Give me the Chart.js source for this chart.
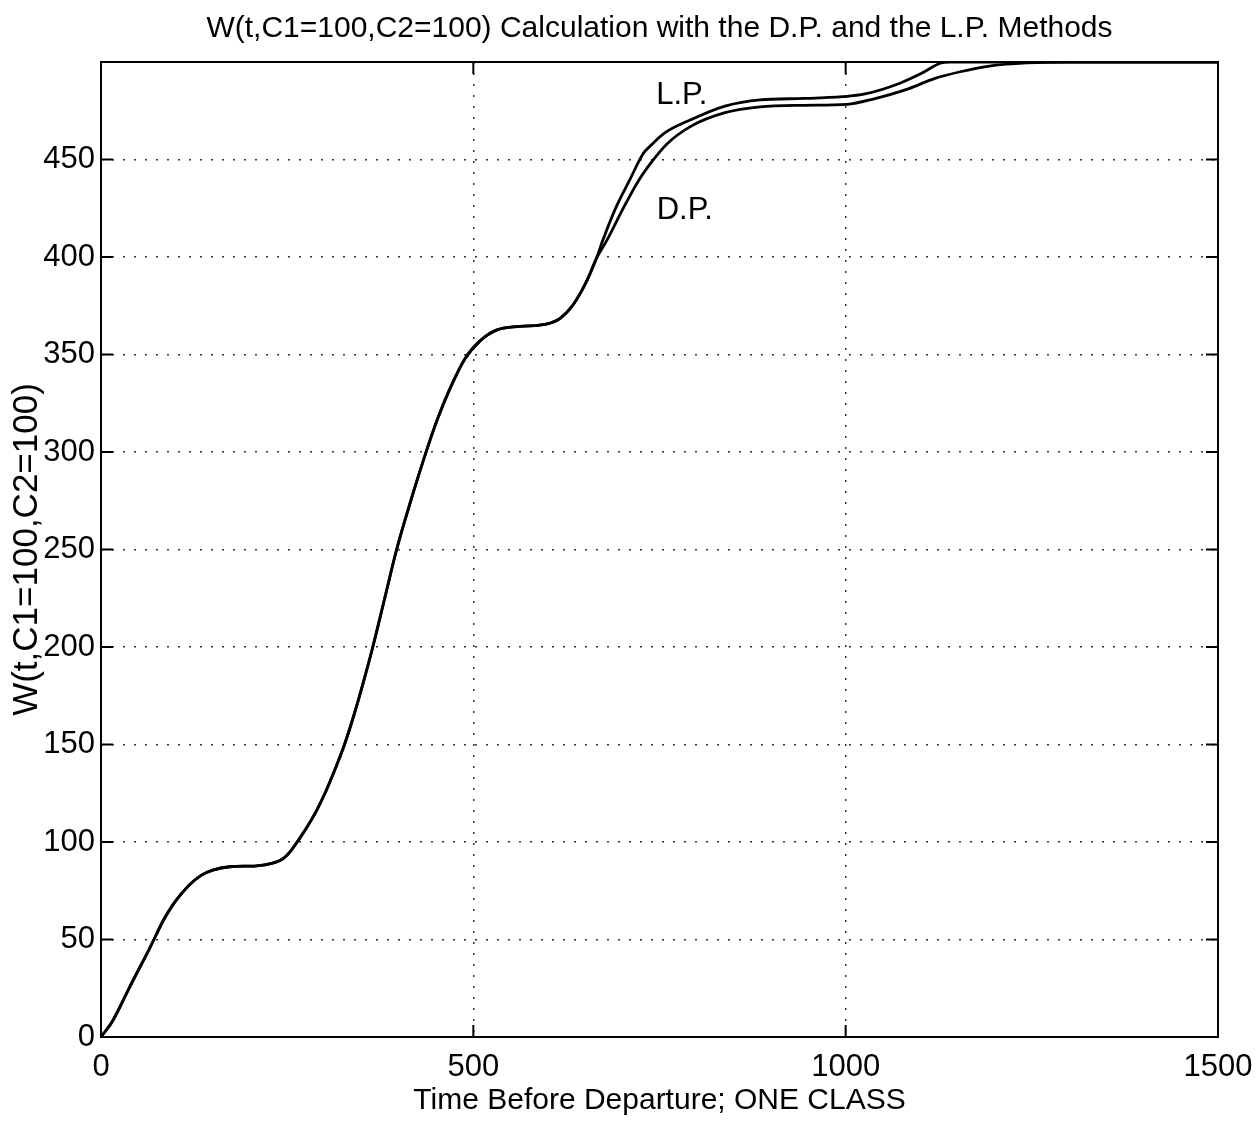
<!DOCTYPE html>
<html>
<head>
<meta charset="utf-8">
<title>W(t) D.P. vs L.P.</title>
<script src="https://cdn.jsdelivr.net/npm/chart.js@4.4.1/dist/chart.umd.min.js"></script>
<style>
  html, body { margin: 0; padding: 0; background: #fff; }
  canvas { display: block; }
</style>
</head>
<body>
<canvas id="wchart" width="1260" height="1122"></canvas>
<script>
// part of the curve where both methods agree
var sharedTime = [0, 16, 39, 66, 84, 96, 108, 120, 135, 150, 173, 209, 229, 245, 256, 267, 278, 290, 302, 314, 327, 340, 352, 365, 381, 397, 416, 434, 451, 468, 489, 509, 531, 562, 598, 617, 634, 652, 665];
var sharedW    = [0, 8.5, 26, 46, 60, 67.5, 73.5, 78.5, 83, 85.6, 87.3, 87.8, 89, 91.6, 96, 102, 108.5, 116.5, 126, 137, 150, 165.5, 181.5, 200, 225, 250, 275, 297, 316, 332, 348, 357, 362.5, 364.4, 365.6, 368.7, 375.5, 387.5, 399];

// L.P. method after the split
var lpTime = [674, 692, 710, 728, 739, 757, 792, 838, 885, 944, 996, 1026, 1072, 1102, 1128, 1140, 1500];
var lpW    = [408.7, 425.8, 439.5, 453, 457.4, 463.6, 470.4, 477.4, 480.6, 481.3, 482.2, 483.6, 489, 494.2, 499.5, 500, 500];

// D.P. method after the split
var dpTime = [680, 700, 720, 740, 760, 792, 838, 885, 944, 1002, 1037, 1084, 1119, 1154, 1195, 1243, 1300, 1500];
var dpW    = [409, 424, 438, 449, 458, 467, 474, 477, 477.8, 478.3, 481, 486.2, 491.5, 495, 498, 499.5, 500, 500];

var xTicks = [0, 500, 1000, 1500];
var yTicks = [0, 50, 100, 150, 200, 250, 300, 350, 400, 450, 500];

var curveNotes = [
  { text: 'L.P.', t: 780, w: 483 },
  { text: 'D.P.', t: 784, w: 424 }
];

var FONT = "'Liberation Sans', Arial, Helvetica, sans-serif";

function toPoints(ts, ws) {
  var out = [];
  for (var i = 0; i < ts.length; i++) out.push({ x: ts[i], y: ws[i] });
  return out;
}

// box round the plot plus matlab style inward ticks
var frameTicks = {
  id: 'frameTicks',
  afterDraw: function(chart) {
    var ctx = chart.ctx, a = chart.chartArea;
    var xs = chart.scales.x, ys = chart.scales.y;
    var len = 12;
    ctx.save();
    ctx.strokeStyle = '#000';
    ctx.lineWidth = 2;
    ctx.strokeRect(a.left, a.top, a.right - a.left, a.bottom - a.top);
    ctx.beginPath();
    xTicks.forEach(function(v) {
      var px = xs.getPixelForValue(v);
      ctx.moveTo(px, a.bottom); ctx.lineTo(px, a.bottom - len);
      ctx.moveTo(px, a.top); ctx.lineTo(px, a.top + len);
    });
    yTicks.forEach(function(v) {
      var py = ys.getPixelForValue(v);
      ctx.moveTo(a.left, py); ctx.lineTo(a.left + len, py);
      ctx.moveTo(a.right, py); ctx.lineTo(a.right - len, py);
    });
    ctx.stroke();

    ctx.fillStyle = '#000';
    ctx.font = '31px ' + FONT;
    ctx.textAlign = 'center';
    ctx.textBaseline = 'middle';
    curveNotes.forEach(function(n) {
      ctx.fillText(n.text, xs.getPixelForValue(n.t), ys.getPixelForValue(n.w));
    });
    ctx.restore();
  }
};

var ctx = document.getElementById('wchart');
var wChart = new Chart(ctx, {
  type: 'line',
  data: {
    datasets: [{
      label: 'L.P.',
      data: toPoints(sharedTime.concat(lpTime), sharedW.concat(lpW)),
      borderColor: '#000',
      borderWidth: 2.8,
      pointRadius: 0,
      cubicInterpolationMode: 'monotone'
    }, {
      label: 'D.P.',
      data: toPoints(sharedTime.concat(dpTime), sharedW.concat(dpW)),
      borderColor: '#000',
      borderWidth: 2.8,
      pointRadius: 0,
      cubicInterpolationMode: 'monotone'
    }]
  },
  options: {
    responsive: false,
    animation: false,
    devicePixelRatio: 1,
    layout: { padding: { left: 0, right: 42, top: 0, bottom: 0 } },
    plugins: {
      legend: { display: false },
      tooltip: { enabled: false },
      title: {
        display: true,
        fullSize: false,
        text: 'W(t,C1=100,C2=100) Calculation with the D.P. and the L.P. Methods',
        color: '#000',
        font: { family: FONT, size: 30, weight: 'normal' },
        padding: { top: 11, bottom: 15 }
      }
    },
    scales: {
      x: {
        type: 'linear',
        min: 0, max: 1500,
        afterBuildTicks: function(s) { s.ticks = xTicks.map(function(v) { return { value: v }; }); },
        afterFit: function(s) { s.height = 85; s.paddingRight = 0; s.paddingLeft = 0; },
        ticks: {
          color: '#000', padding: 12, maxRotation: 0, font: { family: FONT, size: 31 },
          callback: function(v) { return String(v); }
        },
        grid: {
          drawTicks: false,
          color: function(c) { var v = c.tick && c.tick.value; return (v === 0 || v === 1500) ? 'rgba(0,0,0,0)' : '#333'; },
          lineWidth: 1.5
        },
        border: { display: false, dash: [2, 9] },
        title: {
          display: true,
          text: 'Time Before Departure; ONE CLASS',
          color: '#000',
          font: { family: FONT, size: 30, lineHeight: 1 },
          padding: { top: 0, bottom: 6 }
        }
      },
      y: {
        type: 'linear',
        min: 0, max: 500,
        afterBuildTicks: function(s) { s.ticks = yTicks.map(function(v) { return { value: v }; }); },
        afterFit: function(s) { s.width = 101; },
        ticks: {
          color: '#000', padding: 6, font: { family: FONT, size: 31 },
          callback: function(v) { return v === 500 ? '' : String(v); }
        },
        grid: {
          drawTicks: false,
          color: function(c) { var v = c.tick && c.tick.value; return (v === 0 || v === 500) ? 'rgba(0,0,0,0)' : '#333'; },
          lineWidth: 1.5
        },
        border: { display: false, dash: [2, 9] },
        title: {
          display: true,
          text: 'W(t,C1=100,C2=100)',
          color: '#000',
          font: { family: FONT, size: 35, lineHeight: 1 },
          padding: { top: 10, bottom: 0 }
        }
      }
    }
  },
  plugins: [frameTicks]
});
</script>
</body>
</html>
